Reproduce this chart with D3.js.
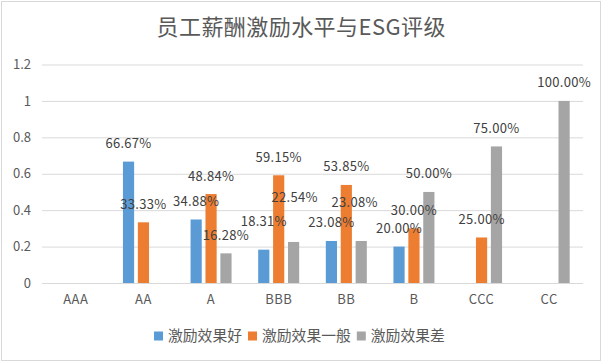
<!DOCTYPE html>
<html>
<head>
<meta charset="utf-8">
<script src="https://cdn.jsdelivr.net/npm/d3@7/dist/d3.min.js"></script>
<style>
  body { margin: 0; background: #fff; }
  text { font-family: "Noto Sans CJK SC", "Noto Sans", sans-serif; }
</style>
</head>
<body>
<div id="chart"></div>
<script>
var width = 602,
    height = 362;

var title = '员工薪酬激励水平与ESG评级';

var grades = ['AAA', 'AA', 'A', 'BBB', 'BB', 'B', 'CCC', 'CC'];
var seriesNames = ['激励效果好', '激励效果一般', '激励效果差'];
var colors = ['#5B9BD5', '#ED7D31', '#A5A5A5'];

// null = no bar / no label
var good = [null, 0.6667, 0.3488, 0.1831, 0.2308, 0.2000, null, null];
var normal = [null, 0.3333, 0.4884, 0.5915, 0.5385, 0.3000, 0.2500, null];
var poor = [null, null, 0.1628, 0.2254, 0.2308, 0.5000, 0.7500, 1.0000];

var yTicks = [0, 0.2, 0.4, 0.6, 0.8, 1, 1.2];

var series = [good, normal, poor];

// labels that excel pushed aside to avoid overlaps ("grade-series": [dx, dy])
var labelNudge = {'BBB-0': [0, -10], 'BBB-2': [1, -26], 'BB-2': [-6.5, -20]};

var margin = {left: 42, right: 19, top: 64.5, bottom: 79};

var svg = d3.select('#chart').append('svg')
    .attr('width', width)
    .attr('height', height);

svg.append('rect')
    .attr('x', 1.5).attr('y', 1.5)
    .attr('width', width - 3).attr('height', height - 3)
    .attr('fill', '#fff')
    .attr('stroke', '#D9D9D9');

svg.append('text')
    .attr('x', width / 2)
    .attr('y', 35)
    .attr('text-anchor', 'middle')
    .attr('font-size', '22px')
    .attr('textLength', 289)
    .attr('lengthAdjust', 'spacing')
    .attr('fill', '#595959')
    .text(title);

var x0 = d3.scaleBand()
    .domain(grades)
    .range([margin.left, width - margin.right]);

var x1 = d3.scaleBand()
    .domain([0, 1, 2])
    .range([0, 41])
    .paddingInner(0.25);

var y = d3.scaleLinear()
    .domain([0, 1.2])
    .range([height - margin.bottom, margin.top]);

var yAxis = d3.axisLeft(y)
    .tickValues(yTicks)
    .tickSize(-(width - margin.left - margin.right))
    .tickPadding(11)
    .tickFormat(function(d) { return d; });

var gy = svg.append('g')
    .attr('transform', 'translate(' + margin.left + ',0)')
    .call(yAxis);
gy.select('.domain').remove();
gy.selectAll('line').attr('stroke', '#D9D9D9');
gy.selectAll('text')
    .attr('font-size', '13px')
    .attr('fill', '#595959');

var xAxis = d3.axisBottom(x0).tickSize(0).tickPadding(12);
var gx = svg.append('g')
    .attr('transform', 'translate(0,' + y(0) + ')')
    .call(xAxis);
gx.select('.domain').remove();
gx.selectAll('text')
    .attr('font-size', '13px')
    .attr('fill', '#595959')
    .attr('letter-spacing', '0.5px');

// flatten to one record per bar
var bars = [];
grades.forEach(function(g, gi) {
    series.forEach(function(s, si) {
        if (s[gi] != null) bars.push({grade: g, si: si, value: s[gi]});
    });
});

var barX = function(d) {
    return x0(d.grade) + (x0.bandwidth() - 41) / 2 + x1(d.si);
};
var nudge = function(d) {
    return labelNudge[d.grade + '-' + d.si] || [0, 0];
};

svg.append('g').selectAll('rect')
    .data(bars)
    .enter().append('rect')
    .attr('x', barX)
    .attr('y', function(d) { return y(d.value); })
    .attr('width', x1.bandwidth())
    .attr('height', function(d) { return y(0) - y(d.value); })
    .attr('fill', function(d) { return colors[d.si]; });

// labels on top of every bar
svg.append('g').selectAll('text')
    .data(bars)
    .enter().append('text')
    .attr('x', function(d) { return barX(d) + x1.bandwidth() / 2 + nudge(d)[0]; })
    .attr('y', function(d) { return y(d.value) - 13.5 + nudge(d)[1]; })
    .attr('text-anchor', 'middle')
    .attr('font-size', '13px')
    .attr('letter-spacing', '0.3px')
    .attr('fill', '#404040')
    .text(function(d) { return d3.format('.2%')(d.value); });

// legend
var legend = svg.append('g').attr('class', 'legend');
var lx = 154;
seriesNames.forEach(function(name, i) {
    var item = legend.append('g').attr('transform', 'translate(' + lx + ',0)');
    item.append('rect')
        .attr('x', 0).attr('y', 331.5)
        .attr('width', 9).attr('height', 9)
        .attr('fill', colors[i]);
    var t = item.append('text')
        .attr('x', 14)
        .attr('y', 341)
        .attr('font-size', '14.8px')
        .attr('fill', '#595959')
        .text(name);
    lx += 14 + t.node().getComputedTextLength() + 6;
});
</script>
</body>
</html>
